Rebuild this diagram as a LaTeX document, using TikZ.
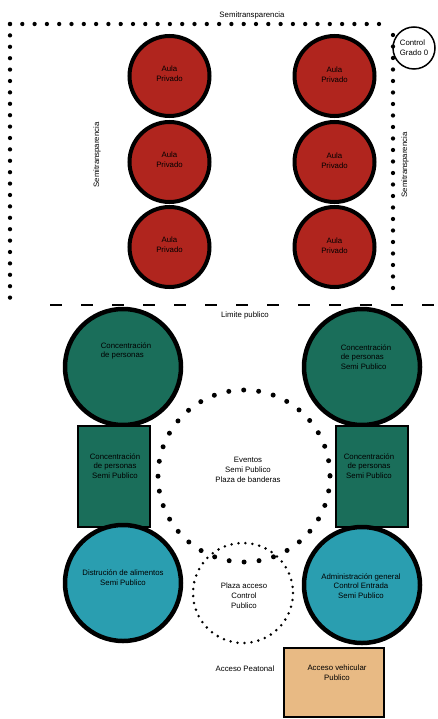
\documentclass[tikz,border=0pt]{standalone}
\usepackage{fontspec}
\setmainfont{Liberation Sans}
\usetikzlibrary{calc}
\definecolor{aularojo}{RGB}{176,37,30}
\definecolor{verdeosc}{RGB}{26,110,90}
\definecolor{turquesa}{RGB}{42,158,176}
\definecolor{durazno}{RGB}{232,186,132}
\def\letra{\fontsize{7.8}{9.8}\selectfont}

\begin{document}
\begin{tikzpicture}[x=1pt, y=-1pt,
		aula/.style={circle, draw, line width=4pt, fill=aularojo, minimum size=80pt, inner sep=0pt},
		grande/.style={circle, draw, line width=4.5pt, minimum size=116pt, inner sep=0pt},
		bloque/.style={rectangle, draw, line width=2pt, fill=verdeosc, minimum width=72pt, minimum height=101pt, inner sep=0pt},
		rotulo/.style={font=\letra, align=center, inner sep=0pt},
		puntos/.style={line width=4.3pt, line cap=round, dash pattern=on 0pt off #1},
	]
			%%%%% START %%%%%
			\useasboundingbox (0, 0) rectangle (438, 719);
			
			% limite semitransparente
			\draw[puntos=12.3pt] (10, 24) -- (386, 24);
			\draw[puntos=11.4pt] (10, 24) -- (10, 306);
			\draw[puntos=11.5pt] (393, 35) -- (393, 290);
			\node[rotulo] (semiT) at (252, 15) {Semitransparencia};
			\node[rotulo, rotate=90] (semiI) at (97, 155) {Semitransparencia};
			\node[rotulo, rotate=90] (semiD) at (405, 165) {Semitransparencia};
			
			\node[circle, draw, line width=1.5pt, minimum size=42pt, inner sep=0pt] (control) at (414, 48) {};
			\node[rotulo, align=left] (controlT) at (control.center) {Control\\Grado 0};
			
			% aulas
			\foreach \fila/\yy in {1/76, 2/162, 3/247} {
				\node[aula] (aulaA\fila) at (169.5, \yy) {};
				\node[aula] (aulaB\fila) at (334.5, \yy) {};
				\node[rotulo] at ([yshift=2pt]aulaA\fila.center) {Aula\\Privado};
				\node[rotulo] at ([yshift=1pt]aulaB\fila.center) {Aula\\Privado};
			}
			
			% limite publico
			\draw[line width=1.8pt, dash pattern=on 12pt off 19pt] (50, 305) -- (438, 305);
			\node[rotulo] (limite) at (245, 315) {Limite publico};
			
			% concentracion
			\node[grande, fill=verdeosc] (concA) at (123, 367) {};
			\node[grande, fill=verdeosc] (concB) at (362, 367) {};
			\node[rotulo, align=left] (concAT) at (126, 351) {Concentración\\de personas};
			\node[rotulo, align=left] (concBT) at (366, 357) {Concentración\\de personas\\Semi Publico};
			
			\node[bloque] (bloqA) at (113.5, 476) {};
			\node[bloque] (bloqB) at (371.5, 476) {};
			\node[rotulo] (bloqAT) at (115, 466) {Concentración\\de personas\\ Semi Publico};
			\node[rotulo] (bloqBT) at (369, 466) {Concentración\\de personas\\Semi Publico};
			
			% eventos
			\node[circle, minimum size=172pt, inner sep=0pt] (eventos) at (244, 476) {};
			\draw[line width=5pt, line cap=round, dash pattern=on 0pt off 15pt] (eventos.center) circle (86);
			\node[rotulo] (eventosT) at (248, 470) {Eventos\\Semi Publico\\Plaza de banderas};
			
			% distribucion y administracion
			\node[grande, fill=turquesa] (distA) at (123, 583) {};
			\node[grande, fill=turquesa] (admB) at (362, 585) {};
			\node[rotulo] (distAT) at (123, 578) {Distrución de alimentos\\Semi Publico};
			\node[rotulo] (admBT) at (361, 586) {Administración general\\Control Entrada\\Semi Publico};
			
			% plaza acceso
			\node[circle, minimum size=100pt, inner sep=0pt] (plaza) at (243, 593) {};
			\draw[line width=2.8pt, line cap=round, dash pattern=on 0pt off 7pt] (plaza.center) circle (50);
			\node[rotulo] (plazaT) at (244, 596) {Plaza acceso\\Control\\Publico};
			
			% accesos
			\node[rectangle, draw, line width=2pt, fill=durazno, minimum width=100pt, minimum height=69pt, inner sep=0pt] (vehic) at (334, 682) {};
			\node[rotulo] (vehicT) at (337, 673) {Acceso vehicular\\Publico};
			\node[rotulo] (peatonal) at (245, 669) {Acceso Peatonal};
			
			%%%%% END %%%%%
\end{tikzpicture}
\end{document}
